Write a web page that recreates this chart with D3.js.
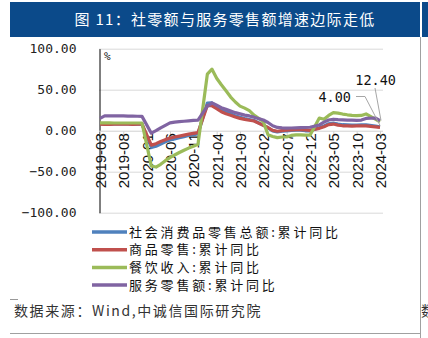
<!DOCTYPE html>
<html><head><meta charset="utf-8">
<script src="https://cdn.jsdelivr.net/npm/d3@7"></script>
<style>
body{margin:0;background:#fff;}
svg{display:block;}
</style></head>
<body>
<svg id="c" width="428" height="338"></svg>
<script>
// ---- data ----
const title = "图 11：社零额与服务零售额增速边际走低";
const source = "数据来源：Wind,中诚信国际研究院";
const months = d3.timeMonth.range(new Date(2019, 2, 1), new Date(2024, 3, 1)).map(d3.timeFormat("%Y-%m"));
const tickLabels = ["2019-03","2019-08","2020-01","2020-06","2020-11","2021-04","2021-09","2022-02","2022-07","2022-12","2023-05","2023-10","2024-03"];
const yTicks = [100, 50, 0, -50, -100];
const seriesNames = ["社会消费品零售总额:累计同比","商品零售:累计同比","餐饮收入:累计同比","服务零售额:累计同比"];
const colors = ["#4F81BD","#C0504D","#9BBB59","#8064A2"];
const totalRetail = [8.3,8.0,8.1,8.4,8.3,8.2,8.2,8.1,8.0,8.0,
  null,-20.5,-19.0,-16.2,-13.5,-11.4,-9.9,-8.6,-7.2,-5.9,-4.8,-3.9,
  null,33.8,33.9,29.6,25.7,23.0,20.7,18.1,16.4,14.9,13.7,12.5,
  null,6.7,3.3,-0.2,-1.5,-0.7,-0.2,0.5,0.7,0.6,-0.1,-0.2,
  null,3.5,5.8,8.5,9.3,8.2,7.3,7.0,6.8,6.9,7.2,7.2,
  null,5.5,4.7];
const goodsRetail = [8.0,7.7,7.8,8.1,8.1,7.9,7.9,7.8,7.9,7.9,
  null,-17.6,-15.8,-13.1,-10.9,-9.0,-7.7,-6.6,-5.4,-4.2,-3.2,-2.3,
  null,30.7,30.4,26.9,23.1,20.6,18.8,16.7,15.0,13.8,12.8,11.8,
  null,6.5,3.9,0.4,-0.7,0.1,0.8,1.1,1.4,1.3,1.0,0.5,
  null,2.9,4.9,7.4,8.1,6.8,6.0,5.8,5.7,5.8,6.0,5.8,
  null,4.6,4.0];
const catering = [9.6,9.5,9.5,9.4,9.4,9.4,9.4,9.4,9.4,9.4,
  null,-43.1,-44.3,-41.0,-36.5,-32.8,-29.6,-26.6,-23.9,-21.2,-19.0,-16.6,
  null,68.9,75.0,64.0,56.0,48.6,41.0,35.0,30.0,27.5,24.5,19.0,
  null,11.0,-5.0,-7.0,-8.5,-7.7,-7.5,-5.8,-5.1,-5.0,-5.4,-5.5,
  null,15.4,13.9,18.6,22.0,21.4,20.3,19.4,18.7,18.4,18.6,20.4,
  null,14.0,10.8];
const serviceRetail = [15.0,18.0,18.0,18.0,18.0,18.0,17.8,17.8,17.6,17.5,
  null,-3.0,0.0,3.5,6.5,9.5,10.5,11.0,11.5,12.0,12.5,13.0,
  null,30.0,34.0,31.0,28.0,26.0,24.0,22.0,20.5,19.0,18.0,16.5,
  null,13.0,10.0,6.0,4.0,3.5,3.2,3.3,3.5,3.7,3.9,4.2,
  null,7.0,10.5,13.0,14.0,13.5,13.2,13.0,12.8,12.7,13.0,15.0,
  null,15.5,12.4];
const seriesValues = [totalRetail, goodsRetail, catering, serviceRetail];
const annotations = [{text:"4.00", series:1}, {text:"12.40", series:3}];

// ---- drawing ----
const svg = d3.select("#c");
const cjk = "'Noto Sans CJK SC','Noto Sans',sans-serif";
const mono = "'DejaVu Sans Mono','Liberation Mono',monospace";

// title bar
svg.append("rect").attr("x",10).attr("y",2).attr("width",410).attr("height",35).attr("fill","#0B4A8A");
svg.append("rect").attr("x",422).attr("y",2).attr("width",6).attr("height",35).attr("fill","#0B4A8A");
svg.append("text").attr("x",225).attr("y",25).attr("text-anchor","middle")
  .attr("fill","#fff").style("font-family",cjk).style("font-size","15px").style("letter-spacing","1.3px")
  .text(title);
svg.append("line").attr("x1",420.5).attr("x2",420.5).attr("y1",37).attr("y2",338).attr("stroke","#a0a0a0");

const x = d3.scalePoint().domain(months).range([100, 380]);
const y = d3.scaleLinear().domain([-100, 100]).range([212.7, 48.7]);

// gridlines
svg.append("g").selectAll("line").data(yTicks.filter(v=>v!==0)).join("line")
  .attr("x1",99).attr("x2",383).attr("y1",d=>y(d)+0.5).attr("y2",d=>y(d)+0.5)
  .attr("stroke","#d9d9d9").attr("stroke-width",1);

// y axis
const yAxis = svg.append("g").attr("transform","translate(99.5,0)")
  .call(d3.axisLeft(y).tickValues(yTicks).tickSize(0).tickPadding(23).tickFormat(d3.format(".2f")));
yAxis.select(".domain").attr("stroke","#000");
yAxis.selectAll("text").style("font-family",mono).style("font-size","13px").attr("fill","#222");

// x axis at zero
const xAxis = svg.append("g").attr("transform",`translate(0,${y(0)+0.5})`)
  .call(d3.axisBottom(x).tickValues(tickLabels).tickSize(5).tickSizeOuter(0));
xAxis.select(".domain").attr("d",`M99,0H383`).attr("stroke","#d0d0d0");
xAxis.selectAll(".tick line").attr("stroke","#d0d0d0");
xAxis.selectAll("text").attr("transform","rotate(-90)").attr("text-anchor","end")
  .attr("x",-2).attr("y",0).attr("dy","0.36em")
  .style("font-family","'Liberation Sans',Arial,sans-serif").style("font-size","15px").attr("fill","#111");

svg.append("text").attr("x",104).attr("y",60).text("%")
  .style("font-family",mono).style("font-size","11px").attr("fill","#111");

// lines
const line = d3.line().x(d=>x(d.m)).y(d=>y(d.v)).curve(d3.curveLinear);
seriesValues.forEach((vals,i)=>{
  const pts = months.map((m,j)=>({m, v: vals[j]})).filter(d=>d.v!==null);
  svg.append("path").datum(pts).attr("d",line).attr("fill","none")
    .attr("stroke",colors[i]).attr("stroke-width",3.2).attr("stroke-linejoin","round");
});

// annotations
const lastM = months[months.length-1];
const a0 = annotations[0], a1 = annotations[1];
const e0 = [x(lastM), y(seriesValues[a0.series][months.length-1])];
const e1 = [x(lastM), y(seriesValues[a1.series][months.length-1])];
svg.append("polyline").attr("points",`356,96.5 365,96.5 ${e0[0]},${e0[1]-2}`)
  .attr("fill","none").attr("stroke","#a6a6a6").attr("stroke-width",1);
svg.append("line").attr("x1",375).attr("y1",88).attr("x2",e1[0]+1).attr("y2",e1[1])
  .attr("stroke","#a6a6a6").attr("stroke-width",1);
svg.append("text").attr("x",351).attr("y",101.5).attr("text-anchor","end").text(a0.text)
  .style("font-family",mono).style("font-size","13.5px").attr("fill","#111");
svg.append("text").attr("x",396).attr("y",85).attr("text-anchor","end").text(a1.text)
  .style("font-family",mono).style("font-size","13.5px").attr("fill","#111");

// legend
const lg = svg.append("g");
seriesNames.forEach((n,i)=>{
  const cy = 232 + i*17.7;
  lg.append("line").attr("x1",92).attr("x2",127).attr("y1",cy).attr("y2",cy)
    .attr("stroke",colors[i]).attr("stroke-width",3.5);
  lg.append("text").attr("x",129).attr("y",cy+4.5).text(n)
    .style("font-family",cjk).style("font-size","13px").style("letter-spacing","2.8px").attr("fill","#111");
});

// source
svg.append("line").attr("x1",10).attr("x2",18).attr("y1",299.5).attr("y2",299.5).attr("stroke","#999");
svg.append("text").attr("x",14).attr("y",316).text(source)
  .style("font-family",cjk).style("font-size","14px").style("letter-spacing","1.6px").attr("fill","#333");
svg.append("text").attr("x",421).attr("y",316).text("数")
  .style("font-family",cjk).style("font-size","14px").attr("fill","#333");
svg.append("line").attr("x1",10).attr("x2",420).attr("y1",333.5).attr("y2",333.5).attr("stroke","#a0a0a0");
</script>
</body></html>
